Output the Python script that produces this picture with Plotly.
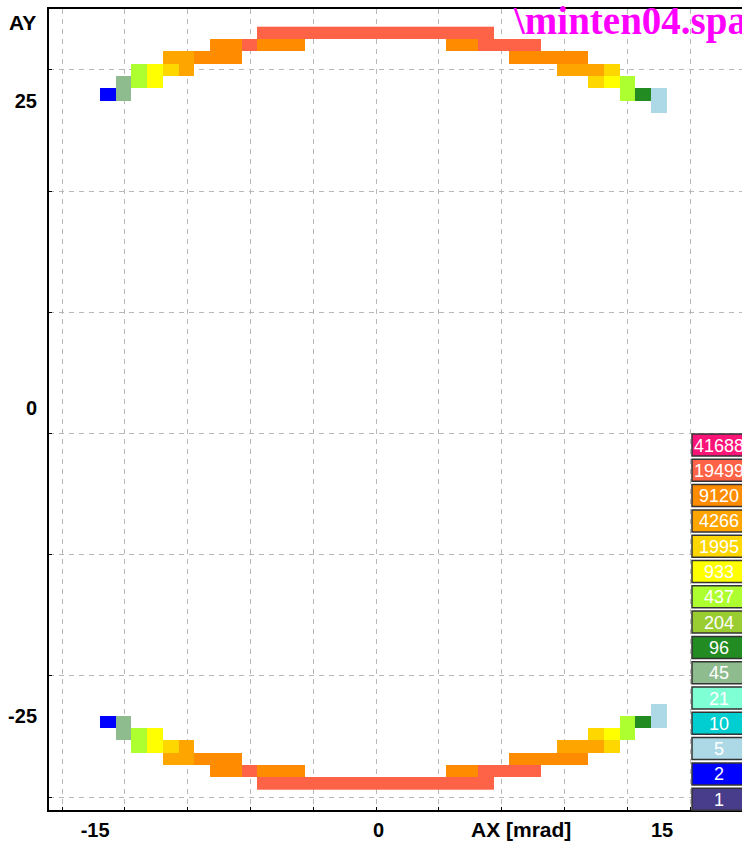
import numpy as np
import plotly.graph_objects as go

# ---- data -------------------------------------------------------------
# Count classes of the key (top to bottom) and their colours
class_counts = [41688, 19499, 9120, 4266, 1995, 933, 437, 204, 96, 45, 21, 10, 5, 2, 1]
class_colors = ["#FA1478", "#FF6347", "#FF8C00", "#FFA500", "#FFD700", "#FFFF00",
                "#ADFF2F", "#9ACD32", "#228B22", "#8FBC8F", "#7FFFD4", "#00CED1",
                "#ADD8E6", "#0000FF", "#483D8B"]

# AX bins (mrad): 36 bins of 5/6 mrad, AY bins (mrad): 62 bins of 1 mrad
ax_bins = np.arange(-17, 19) * 5.0 / 6.0
ay_bins = np.arange(30.5, -31.0, -1.0)

# Filled cells per AY row: (first AX bin, last AX bin, counts)
ring_rows = {
    30.5: [(10, 24, 19499)],
    29.5: [(7, 8, 9120), (9, 9, 19499), (10, 12, 9120), (22, 23, 9120), (24, 27, 19499)],
    28.5: [(4, 5, 4266), (6, 8, 9120), (26, 30, 9120)],
    27.5: [(2, 2, 437), (3, 3, 933), (4, 4, 1995), (5, 5, 4266), (29, 31, 4266), (32, 32, 1995)],
    26.5: [(1, 1, 45), (2, 2, 437), (3, 3, 933), (31, 31, 1995), (32, 32, 933), (33, 33, 437)],
    25.5: [(0, 0, 2), (1, 1, 45), (33, 33, 437), (34, 34, 96), (35, 35, 5)],
    24.5: [(35, 35, 5)],
    -24.5: [(35, 35, 5)],
    -25.5: [(0, 0, 2), (1, 1, 45), (33, 33, 437), (34, 34, 96), (35, 35, 5)],
    -26.5: [(1, 1, 45), (2, 2, 437), (3, 3, 933), (31, 31, 1995), (32, 32, 933), (33, 33, 437)],
    -27.5: [(2, 2, 437), (3, 3, 933), (4, 4, 1995), (5, 5, 4266), (29, 31, 4266), (32, 32, 1995)],
    -28.5: [(4, 5, 4266), (6, 8, 9120), (26, 30, 9120)],
    -29.5: [(7, 8, 9120), (9, 9, 19499), (10, 12, 9120), (22, 23, 9120), (24, 27, 19499)],
    -30.5: [(10, 24, 19499)],
}

x_tick_vals = [-15, 0, 15]
y_tick_vals = [25, 0, -25]
title_text = "\\minten04.spa"

# ---- geometry ---------------------------------------------------------
W, H = 742, 846
ML, MR, MT, MB = 49, 0, 9, 36
PX_X, X0 = 18.9, 375.6        # px per mrad, px of AX = 0
PX_Y, Y0 = 12.31, 408.3       # px per mrad, px of AY = 0
x_range = [(ML - X0) / PX_X, (W - MR - X0) / PX_X]
y_range = [(Y0 - (H - MB)) / PX_Y, (Y0 - MT) / PX_Y]

# dashed grid: fixed pixel pitch measured from the lower-left corner
gx = [(62 + 62.8 * k - X0) / PX_X for k in range(11)]
gy = [(Y0 - (797 - 121.17 * k)) / PX_Y for k in range(7)]


def paper_x(px):
    return (px - ML) / (W - ML - MR)


def paper_y(py):
    return (H - MB - py) / (H - MT - MB)


# ---- heat map ---------------------------------------------------------
asc = np.array(class_counts[::-1])          # 1 ... 41688
colors_asc = class_colors[::-1]
n = len(asc)
z = np.full((len(ay_bins), len(ax_bins)), np.nan)
for ay, runs in ring_rows.items():
    r = int(np.argmin(np.abs(ay_bins - ay)))
    for c0, c1, cnt in runs:
        z[r, c0:c1 + 1] = np.searchsorted(asc, cnt, side="right") - 1

scale = []
for i, col in enumerate(colors_asc):
    scale.append([i / n, col])
    scale.append([(i + 1) / n, col])

fig = go.Figure(go.Heatmap(
    x=ax_bins, y=ay_bins, z=z, zmin=-0.5, zmax=n - 0.5,
    colorscale=scale, showscale=False, hoverongaps=False,
))

axis_font = dict(family="Liberation Sans, Arial, sans-serif", size=20, color="black", weight="bold")
grid_minor = dict(showgrid=True, gridcolor="#b8b8b8", gridwidth=1, griddash="5px,5px",
                  ticks="inside", ticklen=3, tickcolor="black")

fig.update_xaxes(
    range=x_range, tickvals=x_tick_vals, ticktext=[str(v) for v in x_tick_vals],
    showgrid=False, zeroline=False, ticks="", tickfont=axis_font,
    showline=True, linecolor="black", linewidth=2, mirror=True,
    minor=dict(tickvals=gx, **grid_minor), ticklabelstandoff=1, ticklabelshift=3,
)
fig.update_yaxes(
    range=y_range, tickvals=y_tick_vals, ticktext=[str(v) for v in y_tick_vals],
    showgrid=False, zeroline=False, ticks="", tickfont=axis_font,
    showline=True, linecolor="black", linewidth=2, mirror=False,
    minor=dict(tickvals=gy, **grid_minor), ticklabelstandoff=6,
)

shapes, annotations = [], []
# colour key
for k, (cnt, col) in enumerate(zip(class_counts, class_colors)):
    top = 434 + 25.3 * k
    shapes.append(dict(type="rect", xref="paper", yref="paper",
                       x0=paper_x(692), x1=paper_x(752), y0=paper_y(top + 22), y1=paper_y(top),
                       fillcolor=col, line=dict(color="#333333", width=1.5), layer="above"))
    annotations.append(dict(xref="paper", yref="paper", x=paper_x(719), y=paper_y(top + 11.5),
                            text=str(cnt), showarrow=False, xanchor="center", yanchor="middle",
                            font=dict(family="Liberation Sans, Arial, sans-serif", size=18, color="white")))

annotations += [
    dict(xref="paper", yref="paper", x=paper_x(511), y=paper_y(21), text=title_text,
         showarrow=False, xanchor="left", yanchor="middle",
         font=dict(family="Liberation Serif, Times New Roman, serif", size=39, color="#FF00FF", weight="bold")),
    dict(xref="paper", yref="paper", x=paper_x(22), y=paper_y(22), text="AY",
         showarrow=False, xanchor="center", yanchor="middle",
         font=dict(family="Liberation Sans, Arial, sans-serif", size=21, color="black", weight="bold")),
    dict(xref="paper", yref="paper", x=paper_x(521), y=paper_y(829), text="AX [mrad]",
         showarrow=False, xanchor="center", yanchor="middle",
         font=dict(family="Liberation Sans, Arial, sans-serif", size=21, color="black", weight="bold")),
]

fig.update_layout(
    width=W, height=H, margin=dict(l=ML, r=MR, t=MT, b=MB, pad=0),
    paper_bgcolor="white", plot_bgcolor="white", showlegend=False,
    shapes=shapes, annotations=annotations,
)

fig.write_html("out.html")
